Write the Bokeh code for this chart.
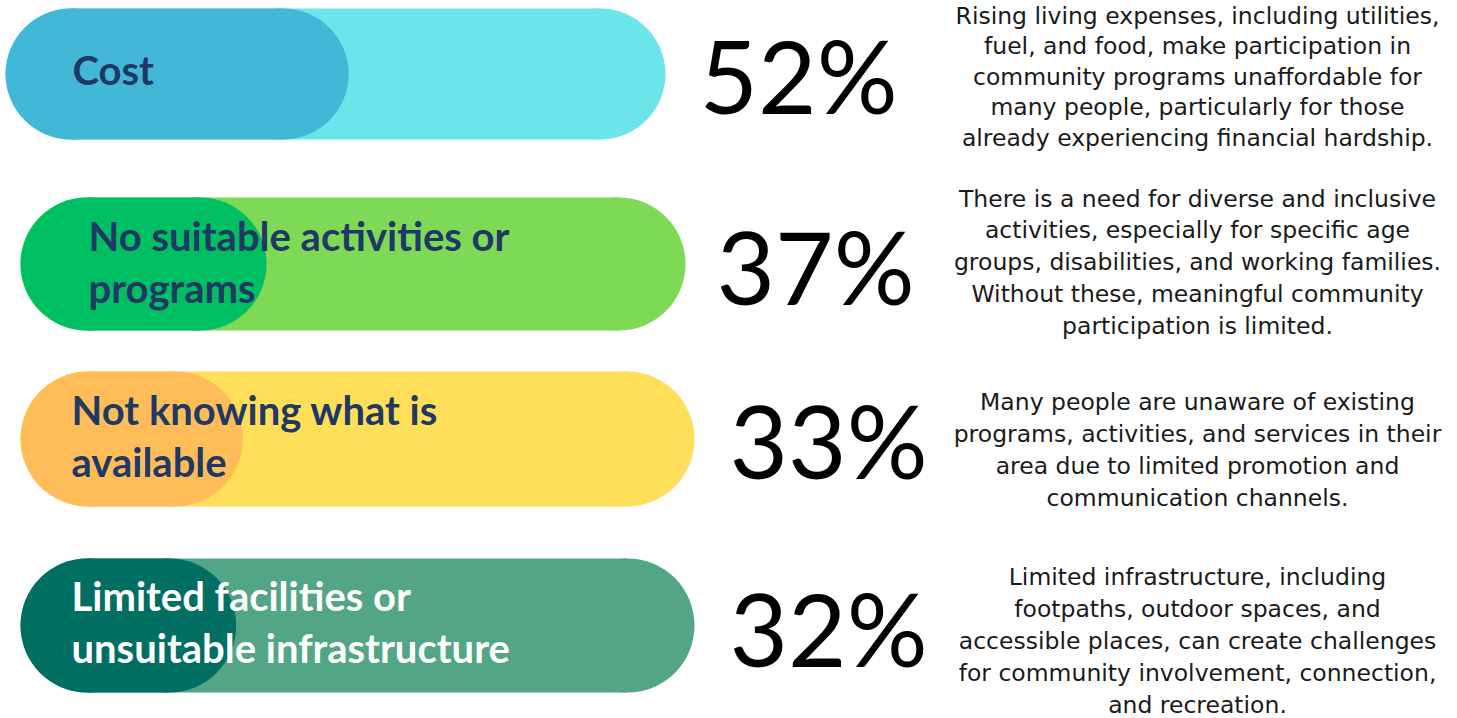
from bokeh.plotting import figure
from bokeh.models import Range1d, ColumnDataSource
from bokeh.embed import file_html
from bokeh.resources import INLINE
from bokeh.core.properties import value

# ---------------- data ----------------
categories = ["Cost",
              "No suitable activities or programs",
              "Not knowing what is available",
              "Limited facilities or unsuitable infrastructure"]
label_lines = [["Cost"],
               ["No suitable activities or", "programs"],
               ["Not knowing what is", "available"],
               ["Limited facilities or", "unsuitable infrastructure"]]
percent = [52, 37, 33, 32]
descriptions = [
    ["Rising living expenses, including utilities,",
     "fuel, and food, make participation in",
     "community programs unaffordable for",
     "many people, particularly for those",
     "already experiencing financial hardship."],
    ["There is a need for diverse and inclusive",
     "activities, especially for specific age",
     "groups, disabilities, and working families.",
     "Without these, meaningful community",
     "participation is limited."],
    ["Many people are unaware of existing",
     "programs, activities, and services in their",
     "area due to limited promotion and",
     "communication channels."],
    ["Limited infrastructure, including",
     "footpaths, outdoor spaces, and",
     "accessible places, can create challenges",
     "for community involvement, connection,",
     "and recreation."],
]

# ---------------- layout / style ----------------
W, H = 1457, 718
bar_left = [5, 20, 20, 20]
bar_right = [665, 685, 694, 694]
bar_top = [8, 197, 371, 558]
bar_bottom = [139, 330, 506, 692]
outer_colors = ["#6BE5EA", "#7ED957", "#FFDE59", "#52A685"]
inner_colors = ["#42B8D6", "#00BF63", "#FFBD59", "#006E60"]
label_colors = ["#1F3864", "#1F3864", "#1F3864", "#FFFFFF"]
label_x = [72, 88, 71, 71]
label_mid = [69, 235, 409, 595]
label_step = 52
pct_x = [699, 716, 729, 729]
pct_mid = [74, 265, 439, 627]
desc_cx = 1197
desc_first = [15, 198, 401, 576]
desc_step = [30.5, 31.75, 32, 32]

p = figure(width=W, height=H,
           x_range=Range1d(0, W), y_range=Range1d(H, 0),
           output_backend="svg", toolbar_location=None,
           x_axis_location=None, y_axis_location=None,
           min_border=0, background_fill_color="white",
           border_fill_color="white")
p.xgrid.visible = False
p.ygrid.visible = False
p.outline_line_color = None


def pill(lefts, rights, tops, bottoms, colors):
    cy = [(t + b) / 2 for t, b in zip(tops, bottoms)]
    h = [b - t for t, b in zip(tops, bottoms)]
    r = [hh / 2 for hh in h]
    src = ColumnDataSource(dict(
        y=cy, h=h,
        l=[a + rr for a, rr in zip(lefts, r)],
        r=[b - rr for b, rr in zip(rights, r)],
        w=h, c=colors))
    p.hbar(y="y", height="h", left="l", right="r", fill_color="c",
           line_color=None, source=src)
    p.ellipse(x="l", y="y", width="w", height="h", fill_color="c",
              line_color=None, source=src)
    p.ellipse(x="r", y="y", width="w", height="h", fill_color="c",
              line_color=None, source=src)


pill(bar_left, bar_right, bar_top, bar_bottom, outer_colors)
inner_right = [l + v / 100 * (r - l) for l, r, v in zip(bar_left, bar_right, percent)]
pill(bar_left, inner_right, bar_top, bar_bottom, inner_colors)

# category labels
lx, ly, lt, lc = [], [], [], []
for i, lines in enumerate(label_lines):
    for j, s in enumerate(lines):
        lx.append(label_x[i])
        ly.append(label_mid[i] + j * label_step)
        lt.append(s)
        lc.append(label_colors[i])
p.text(x="x", y="y", text="t", text_color="c",
       source=ColumnDataSource(dict(x=lx, y=ly, t=lt, c=lc)),
       text_font=value("Lato"), text_font_style="bold",
       text_font_size="40px", text_baseline="middle", text_align="left")

# percentages
p.text(x=pct_x, y=pct_mid, text=[f"{v}%" for v in percent],
       text_color="#000000", text_font=value("Lato"), text_font_style="normal",
       text_font_size="101px", text_baseline="middle", text_align="left")

# descriptions
dx, dy, dt = [], [], []
for i, lines in enumerate(descriptions):
    for j, s in enumerate(lines):
        dx.append(desc_cx)
        dy.append(desc_first[i] + j * desc_step[i])
        dt.append(s)
p.text(x="x", y="y", text="t", source=ColumnDataSource(dict(x=dx, y=dy, t=dt)),
       text_color="#1a1a1a", text_font=value("DejaVu Sans"),
       text_font_size="23.5px", text_baseline="middle", text_align="center")

open("out.html", "w").write(file_html(p, INLINE))
